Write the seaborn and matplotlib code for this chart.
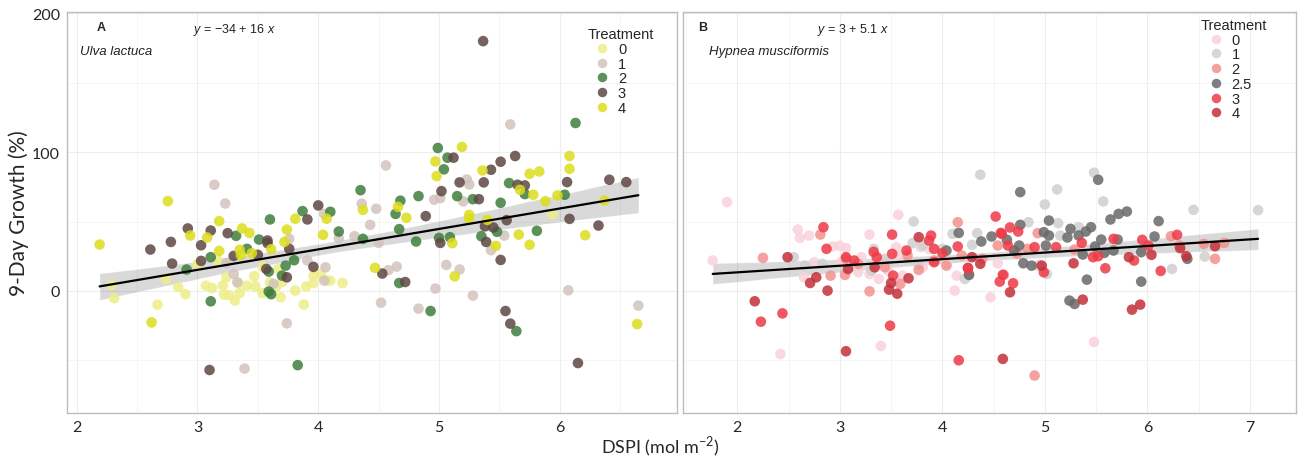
import matplotlib
matplotlib.use("Agg")
import matplotlib.pyplot as plt
import pandas as pd
import seaborn as sns

# Ulva lactuca: DSPI (mol m-2) and 9-day growth (%) per treatment
ULVA_T0_X = [2.29, 2.31, 2.67, 2.74, 2.84, 2.90, 3.00, 3.07, 3.12, 3.21, 3.22, 3.26, 3.31, 3.35, 3.34,
             3.41, 3.48, 3.54, 3.47, 3.54, 3.60, 3.65, 3.69, 3.70, 3.67, 3.81, 3.88, 3.90, 3.96, 3.96,
             4.02, 4.07, 4.10, 4.20, 3.24, 3.17, 5.94]
ULVA_T0_Y = [4.3, -5.3, -9.9, 8.6, 2.8, -2.4, 19.2, 3.8, 2.1, 3.8, -2.7, -3.0, -7.0, -1.5, 5.5,
             3.8, 3.1, -1.7, 10.5, 17.5, 6.2, 2.6, -4.6, 6.2, 15.8, 0.2, -9.9, 3.1, 5.7, 11.0,
             12.2, 7.4, 7.4, 5.7, 9.8, 21.9, 55.3]

ULVA_T1_X = [3.14, 3.23, 3.24, 3.30, 3.76, 3.63, 3.74, 3.91, 4.06, 4.05, 4.05, 4.17, 4.30, 4.36, 4.43,
             4.48, 3.33, 4.56, 4.50, 4.96, 5.01, 5.20, 5.23, 5.25, 5.54, 5.43, 5.06, 5.17, 4.65, 4.58,
             4.97, 5.28, 4.83, 4.52, 6.07, 6.65, 5.59, 3.39]
ULVA_T1_Y = [76.5, 63.0, 20.2, 12.2, 37.5, 5.0, -23.4, 21.9, 17.0, 7.4, 55.5, 38.0, 39.4, 62.8, 47.6,
             59.2, 6.2, 90.4, 34.6, 65.7, 66.9, 64.5, 80.3, 76.7, 39.9, 29.3, 18.7, 15.4, 17.5, 14.9,
             1.7, -3.4, -12.8, -8.5, 0.4, -10.6, 120.0, -56.0]

ULVA_T2_X = [2.91, 3.11, 3.11, 3.32, 3.41, 3.51, 3.60, 3.59, 3.59, 3.61, 3.70, 3.73, 3.80, 3.87, 4.10,
             4.17, 4.35, 4.37, 4.99, 5.07, 5.04, 4.68, 4.64, 4.67, 4.83, 4.81, 5.00, 5.09, 5.15, 5.28,
             5.35, 5.48, 5.58, 5.51, 5.71, 5.81, 6.04, 4.67, 4.93, 5.64, 6.13, 3.83]
ULVA_T2_Y = [15.4, 24.3, -7.5, 39.7, 30.3, 37.0, 51.5, 13.9, -0.5, -2.4, 11.0, 18.2, 22.1, 57.5, 57.0,
             42.8, 72.6, 37.5, 103.0, 96.0, 87.6, 65.0, 55.5, 44.5, 68.3, 35.6, 38.2, 38.7, 68.3, 66.1,
             39.4, 42.6, 77.7, 63.5, 69.8, 43.3, 69.3, 5.7, -14.5, -29.0, 121.0, -53.5]

ULVA_T3_X = [2.61, 2.78, 2.79, 2.92, 3.03, 3.03, 3.11, 3.25, 3.30, 3.50, 3.58, 3.58, 3.57, 3.74, 3.76,
             3.96, 3.91, 4.00, 5.12, 5.02, 4.89, 5.01, 5.17, 5.37, 5.33, 5.43, 5.51, 5.63, 5.65, 5.71,
             5.38, 5.45, 5.39, 5.56, 5.51, 6.06, 6.08, 6.32, 6.41, 6.55, 4.53, 4.72, 5.55, 5.59, 5.365,
             3.10, 6.15]
ULVA_T3_Y = [29.8, 35.3, 19.7, 45.0, 32.9, 21.6, 43.5, 41.6, 25.2, 26.0, 34.4, 36.3, 15.8, 9.8, 30.3,
             17.3, 51.5, 61.6, 96.0, 71.9, 53.9, 34.6, 78.2, 78.2, 66.1, 87.3, 93.1, 97.2, 76.5, 76.0,
             46.6, 45.7, 35.3, 51.0, 22.3, 78.4, 51.9, 47.1, 80.1, 78.4, 12.5, 6.4, -14.5, -23.6, 180.0,
             -57.0, -52.0]

ULVA_T4_X = [2.19, 2.755, 2.62, 3.18, 2.94, 3.08, 3.18, 3.37, 3.43, 3.35, 3.36, 3.45, 3.61, 3.74, 3.72,
             3.81, 4.07, 4.04, 4.37, 4.47, 5.19, 4.97, 4.98, 4.66, 4.73, 5.36, 5.75, 5.83, 6.08, 6.08,
             5.67, 5.78, 5.88, 5.98, 6.37, 5.25, 5.25, 5.40, 5.11, 5.47, 5.66, 5.75, 6.21, 5.13, 6.64]
ULVA_T4_Y = [33.4, 64.7, -22.7, 50.3, 39.9, 38.5, 28.8, 45.0, 41.8, 29.6, 25.7, 27.2, 30.0, 44.2, 35.3,
             52.0, 52.0, 40.4, 58.4, 16.6, 103.7, 93.3, 82.7, 60.6, 52.7, 86.8, 84.4, 86.1, 97.2, 88.0,
             72.9, 69.3, 64.7, 68.8, 65.2, 54.8, 52.0, 51.2, 34.4, 32.4, 40.6, 33.2, 40.1, 10.5, -23.9]

# Hypnea musciformis
HYP_T0_X = [1.90, 1.76, 2.59, 2.61, 2.70, 2.65, 2.75, 2.93, 3.00, 3.06, 3.01, 3.29, 3.21, 3.29, 3.38,
            3.57, 3.55, 3.47, 3.61, 3.81, 3.87, 4.04, 4.14, 4.12, 4.47, 4.54, 4.95, 2.42, 3.40, 5.48,
            3.41, 3.18, 3.79, 3.57]
HYP_T0_Y = [64.0, 21.9, 44.2, 38.2, 39.9, 9.8, 20.7, 32.0, 32.4, 30.8, 20.7, 40.6, 24.3, 12.2, 8.6,
            54.8, 31.5, 14.6, 11.0, 17.0, 30.3, 19.5, 11.0, 0.2, -4.6, 19.9, 18.7, -45.5, -39.7, -36.8,
            20.7, 13.4, 31.5, 25.5]

HYP_T1_X = [2.55, 2.66, 2.83, 3.33, 3.44, 3.72, 3.71, 3.81, 4.00, 4.10, 4.29, 4.34, 4.37, 4.22, 5.48,
            5.12, 5.00, 5.57, 4.84, 5.13, 5.15, 5.33, 5.02, 6.24, 6.45, 6.56, 7.08, 4.94, 3.31, 3.77]
HYP_T1_Y = [24.3, 18.2, 19.5, 30.3, 23.1, 50.0, 34.4, 32.7, 30.3, 41.1, 33.2, 41.6, 83.7, 8.6, 85.2,
            73.1, 62.3, 64.5, 49.5, 48.8, 39.9, 45.9, 12.2, 15.8, 58.4, 24.7, 58.2, 18.2, 14.6, 18.7]

HYP_T2_X = [2.25, 2.81, 2.91, 3.06, 3.05, 3.18, 3.29, 3.59, 3.77, 3.92, 4.15, 4.04, 4.19, 4.26, 4.39,
            4.54, 4.60, 4.93, 4.73, 4.83, 5.29, 6.23, 6.31, 6.55, 6.75, 6.66, 4.90, 3.44, 3.66]
HYP_T2_Y = [23.8, 40.6, 11.0, 23.1, 11.5, 19.5, -0.3, 5.0, 15.1, 21.9, 49.5, 18.2, 25.5, 12.2, 23.1,
            32.7, 11.5, 41.6, 26.7, 30.3, 29.8, 39.4, 32.7, 33.9, 34.6, 23.1, -61.0, 17.0, 25.5]

HYP_T25_X = [4.16, 4.04, 4.38, 4.48, 4.26, 4.76, 5.52, 5.64, 5.72, 5.80, 6.11, 5.04, 4.76, 4.99, 5.04,
             5.25, 5.22, 5.33, 5.40, 5.45, 4.63, 4.70, 4.75, 4.79, 4.87, 5.01, 5.37, 5.49, 5.55, 5.58,
             5.67, 5.71, 5.94, 6.07, 6.39, 5.41, 5.94, 5.24, 5.29]
HYP_T25_Y = [41.8, 29.1, 35.6, 39.2, 11.5, 71.2, 80.1, 51.5, 55.5, 57.2, 50.3, 50.7, 47.6, 42.3, 39.9,
             44.7, 38.5, 39.9, 42.8, 45.9, 36.8, 29.1, 32.7, 19.9, 18.2, 32.7, 26.2, 32.0, 37.0, 27.4,
             29.1, 37.0, 27.9, 39.2, 23.1, 8.1, 6.7, -7.0, -9.4]

HYP_T3_X = [2.84, 2.87, 3.06, 3.36, 3.51, 3.51, 3.52, 3.65, 3.89, 3.87, 3.92, 4.00, 4.15, 4.25, 4.52,
            2.23, 2.44, 3.49, 3.92, 4.66, 4.74, 4.58, 4.64, 4.90, 5.11, 5.36, 5.47, 5.52, 5.67, 5.87,
            5.95, 6.01, 6.29, 5.59, 6.13, 4.56, 4.69, 4.99, 4.16, 4.57, 4.25, 4.59, 3.33, 3.14]
HYP_T3_Y = [45.9, 30.3, 24.3, 24.3, 40.6, 26.7, 11.0, 29.1, 39.9, 36.3, 30.3, 27.2, 32.0, 16.3, 53.6,
            -22.2, -16.2, -25.1, 20.7, 45.7, 42.8, 41.1, 32.7, 31.5, 31.5, 34.6, 24.3, 25.0, 37.5, 21.9,
            36.8, 32.7, 40.4, 16.3, 14.4, 6.7, 5.5, 13.4, -50.0, 41.8, 16.6, 11.6, 28.1, 21.9]

HYP_T4_X = [2.49, 2.71, 2.77, 2.88, 3.08, 3.34, 3.48, 3.50, 3.56, 3.67, 3.77, 4.29, 4.37, 2.17, 3.06,
            4.59, 4.66, 5.28, 5.37, 5.82, 6.04, 5.85, 5.93, 4.97, 6.38, 6.66, 6.32]
HYP_T4_Y = [24.3, 5.7, 9.8, 0.2, 15.8, 17.0, 0.9, 5.7, -2.0, 9.1, 38.7, 24.3, 19.5, -7.5, -43.5,
            -49.0, -1.0, 19.9, -6.3, 24.3, 26.0, -13.5, -9.9, 18.2, 25.0, 32.2, 30.8]

ULVA_ORDER = ["0", "1", "2", "3", "4"]
HYP_ORDER = ["0", "1", "2", "2.5", "3", "4"]

ULVA_COLORS = {"0": "#EEEE88", "1": "#D3C3BE", "2": "#3F7E3D", "3": "#5E4742", "4": "#DDDD1C"}
HYP_COLORS = {"0": "#F9D2DB", "1": "#CFCFCF", "2": "#F2928F", "2.5": "#696969",
              "3": "#EE3A46", "4": "#C4303A"}


def make_frame(groups):
    rows = []
    for label, xs, ys in groups:
        for x, y in zip(xs, ys):
            rows.append({"DSPI": x, "Growth": y, "Treatment": label})
    return pd.DataFrame(rows)


def draw_panel(ax, df, palette, order, xlim, xticks, letter, equation, species, leg_anchor, eq_x):
    sns.scatterplot(data=df, x="DSPI", y="Growth", hue="Treatment", hue_order=order,
                    palette=palette, s=58, alpha=0.85, linewidth=0, ax=ax, zorder=3)
    sns.regplot(data=df, x="DSPI", y="Growth", scatter=False, ax=ax, color="black",
                ci=95, seed=1, line_kws={"lw": 1.6, "zorder": 4})

    ax.set_xlim(*xlim)
    ax.set_ylim(-88, 201)
    ax.set_xticks(xticks)
    ax.set_xticks([t + 0.5 for t in range(1, 8) if xlim[0] < t + 0.5 < xlim[1]], minor=True)
    ax.set_yticks([0, 100, 200])
    ax.set_yticks([-50, 50, 150], minor=True)
    ax.grid(which="major", color="#EDEDED", lw=0.8)
    ax.grid(which="minor", color="#F4F4F4", lw=0.6)
    ax.set_axisbelow(True)
    for sp in ax.spines.values():
        sp.set_color("#BDBDBD")
        sp.set_linewidth(1.0)
        sp.set_visible(True)
    ax.tick_params(which="major", length=3, color="#555555", labelsize=11.5, pad=2)
    ax.tick_params(which="minor", length=0)
    ax.set_xlabel("")
    ax.set_ylabel("")

    ax.text(letter[1], 0.962, letter[0], transform=ax.transAxes, fontsize=9,
            fontweight="bold", family="Liberation Sans", ha="left", va="center")
    ax.text(eq_x, 0.957, equation, transform=ax.transAxes, fontsize=9,
            family="Liberation Sans", ha="center", va="center", color="#222222")
    ax.text(species[1], 0.902, species[0], transform=ax.transAxes, fontsize=9.5,
            style="italic", family="Liberation Sans", ha="left", va="center", color="#222222")

    sns.move_legend(ax, "upper left", bbox_to_anchor=leg_anchor, frameon=False,
                    title="Treatment", fontsize=10.5, title_fontsize=10.5,
                    handletextpad=0.1, labelspacing=0.05, borderaxespad=0,
                    borderpad=0, markerscale=0.9)
    leg = ax.get_legend()
    leg._legend_box.align = "left"
    for t in leg.get_texts():
        t.set_family("Liberation Sans")
    leg.get_title().set_family("Liberation Sans")


sns.set_theme(style="white")
plt.rcParams["font.family"] = ["Lato", "DejaVu Sans"]
plt.rcParams["mathtext.fontset"] = "custom"
plt.rcParams["mathtext.it"] = "Liberation Sans:italic"
plt.rcParams["mathtext.rm"] = "Liberation Sans"

ulva = make_frame([("0", ULVA_T0_X, ULVA_T0_Y), ("1", ULVA_T1_X, ULVA_T1_Y),
                   ("2", ULVA_T2_X, ULVA_T2_Y), ("3", ULVA_T3_X, ULVA_T3_Y),
                   ("4", ULVA_T4_X, ULVA_T4_Y)])
hypnea = make_frame([("0", HYP_T0_X, HYP_T0_Y), ("1", HYP_T1_X, HYP_T1_Y),
                     ("2", HYP_T2_X, HYP_T2_Y), ("2.5", HYP_T25_X, HYP_T25_Y),
                     ("3", HYP_T3_X, HYP_T3_Y), ("4", HYP_T4_X, HYP_T4_Y)])

fig = plt.figure(figsize=(13, 4.6), dpi=100)
ax_a = fig.add_axes([67 / 1300, 46 / 460, 610 / 1300, 401 / 460])
ax_b = fig.add_axes([683 / 1300, 46 / 460, 613 / 1300, 401 / 460])

draw_panel(ax_a, ulva, ULVA_COLORS, ULVA_ORDER, (1.92, 6.97), [2, 3, 4, 5, 6],
           ("A", 0.048), r"$y$ = $-$34 + 16 $x$", ("Ulva lactuca", 0.021),
           (0.853, 0.962), 0.275)
draw_panel(ax_b, hypnea, HYP_COLORS, HYP_ORDER, (1.47, 7.45), [2, 3, 4, 5, 6, 7],
           ("B", 0.024), r"$y$ = 3 + 5.1 $x$", ("Hypnea musciformis", 0.042),
           (0.845, 0.985), 0.277)

ax_a.set_ylabel("9-Day Growth (%)", fontsize=15)
ax_a.yaxis.set_label_coords(-0.062, 0.5)
ax_b.tick_params(axis="y", labelleft=False)

fig.text(0.508, 0.028, r"DSPI (mol m$^{\mathregular{-2}}$)", ha="center", va="center", fontsize=13)

fig.savefig("out.png", dpi=100)
